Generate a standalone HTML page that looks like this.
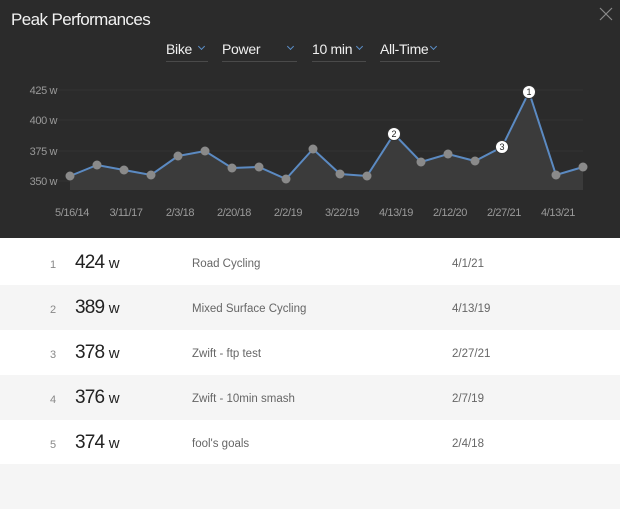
<!DOCTYPE html>
<html><head><style>
html,body{margin:0;width:620px;height:466px;overflow:hidden;background:#fff;font-family:"Liberation Sans",sans-serif}
.top{position:absolute;left:0;top:0;width:620px;height:238px;background:#2b2b2b}
.title{position:absolute;left:11px;top:10px;color:#f2f2f2;font-size:17px;letter-spacing:-0.6px}
.dd{position:absolute;top:41px;color:#f0f0f0;font-size:14px;height:18px;border-bottom:1px solid #4a4a4a;padding-bottom:2px;letter-spacing:-0.3px}
.dd i{position:absolute;right:4px;top:3px;width:4px;height:4px;border-right:1.5px solid #5b8fc9;border-bottom:1.5px solid #5b8fc9;transform:rotate(45deg)}
.row{position:absolute;left:0;width:620px;height:45px}
.n{position:absolute;left:50px;top:19px;font-size:11px;color:#888}
.v{position:absolute;left:75px;top:12px;font-size:19px;color:#222;letter-spacing:-0.8px}
.v small{font-size:15px}
.a{position:absolute;left:192px;top:18px;font-size:11.5px;color:#666}
.d{position:absolute;left:452px;top:18px;font-size:11.5px;color:#666}
</style></head><body>
<div class="top">
<div class="title">Peak Performances</div>
<svg width="14" height="14" style="position:absolute;left:599px;top:7px"><path d="M1 1L13 13M13 1L1 13" stroke="#8a8a8a" stroke-width="1.2"/></svg>
<div class="dd" style="left:166px;width:42px">Bike<i></i></div>
<div class="dd" style="left:222px;width:75px">Power<i></i></div>
<div class="dd" style="left:312px;width:54px">10 min<i></i></div>
<div class="dd" style="left:380px;width:60px">All-Time<i></i></div>
<svg width="620" height="238" style="position:absolute;left:0;top:0" font-family="Liberation Sans" font-size="11">
<g stroke="#333" stroke-width="1"><line x1="58" x2="583" y1="90" y2="90"/><line x1="58" x2="583" y1="120" y2="120"/><line x1="58" x2="583" y1="151" y2="151"/><line x1="58" x2="583" y1="181" y2="181"/></g>
<g fill="#9a9a9a" text-anchor="end" letter-spacing="-0.4"><text x="57" y="94">425 w</text><text x="57" y="124">400 w</text><text x="57" y="155">375 w</text><text x="57" y="185">350 w</text></g>
<polygon fill="#3b3b3b" points="70,176 97,165 124,170 151,175 178,156 205,151 232,168 259,167 286,179 313,149 340,174 367,176 394,134 421,162 448,154 475,161 502,147 529,92 556,175 583,167 583,190 70,190"/>
<polyline fill="none" stroke="#5b8ac2" stroke-width="2" points="70,176 97,165 124,170 151,175 178,156 205,151 232,168 259,167 286,179 313,149 340,174 367,176 394,134 421,162 448,154 475,161 502,147 529,92 556,175 583,167"/>
<g fill="#8a8a8a"><circle cx="70" cy="176" r="4.5"/><circle cx="97" cy="165" r="4.5"/><circle cx="124" cy="170" r="4.5"/><circle cx="151" cy="175" r="4.5"/><circle cx="178" cy="156" r="4.5"/><circle cx="205" cy="151" r="4.5"/><circle cx="232" cy="168" r="4.5"/><circle cx="259" cy="167" r="4.5"/><circle cx="286" cy="179" r="4.5"/><circle cx="313" cy="149" r="4.5"/><circle cx="340" cy="174" r="4.5"/><circle cx="367" cy="176" r="4.5"/><circle cx="421" cy="162" r="4.5"/><circle cx="448" cy="154" r="4.5"/><circle cx="475" cy="161" r="4.5"/><circle cx="556" cy="175" r="4.5"/><circle cx="583" cy="167" r="4.5"/></g>
<g fill="#fff" stroke="#333" stroke-width="1"><circle cx="529" cy="92" r="6.5"/><circle cx="394" cy="134" r="6.5"/><circle cx="502" cy="147" r="6.5"/></g>
<g fill="#222" font-size="9" text-anchor="middle"><text x="529" y="95">1</text><text x="394" y="137">2</text><text x="502" y="150">3</text></g>
<g fill="#9a9a9a" text-anchor="middle" letter-spacing="-0.4"><text x="72" y="216">5/16/14</text><text x="126" y="216">3/11/17</text><text x="180" y="216">2/3/18</text><text x="234" y="216">2/20/18</text><text x="288" y="216">2/2/19</text><text x="342" y="216">3/22/19</text><text x="396" y="216">4/13/19</text><text x="450" y="216">2/12/20</text><text x="504" y="216">2/27/21</text><text x="558" y="216">4/13/21</text></g>
</svg>
</div>
<div class="row" style="top:240px;background:#fff"><div class="n">1</div><div class="v">424 <small>w</small></div><div class="a">Road Cycling</div><div class="d">4/1/21</div></div>
<div class="row" style="top:285px;background:#f5f5f5"><div class="n">2</div><div class="v">389 <small>w</small></div><div class="a">Mixed Surface Cycling</div><div class="d">4/13/19</div></div>
<div class="row" style="top:330px;background:#fff"><div class="n">3</div><div class="v">378 <small>w</small></div><div class="a">Zwift - ftp test</div><div class="d">2/27/21</div></div>
<div class="row" style="top:375px;background:#f5f5f5"><div class="n">4</div><div class="v">376 <small>w</small></div><div class="a">Zwift - 10min smash</div><div class="d">2/7/19</div></div>
<div class="row" style="top:420px;background:#fff"><div class="n">5</div><div class="v">374 <small>w</small></div><div class="a">fool's goals</div><div class="d">2/4/18</div></div>
<div class="row" style="top:464px;background:#f5f5f5"></div>
</body></html>
